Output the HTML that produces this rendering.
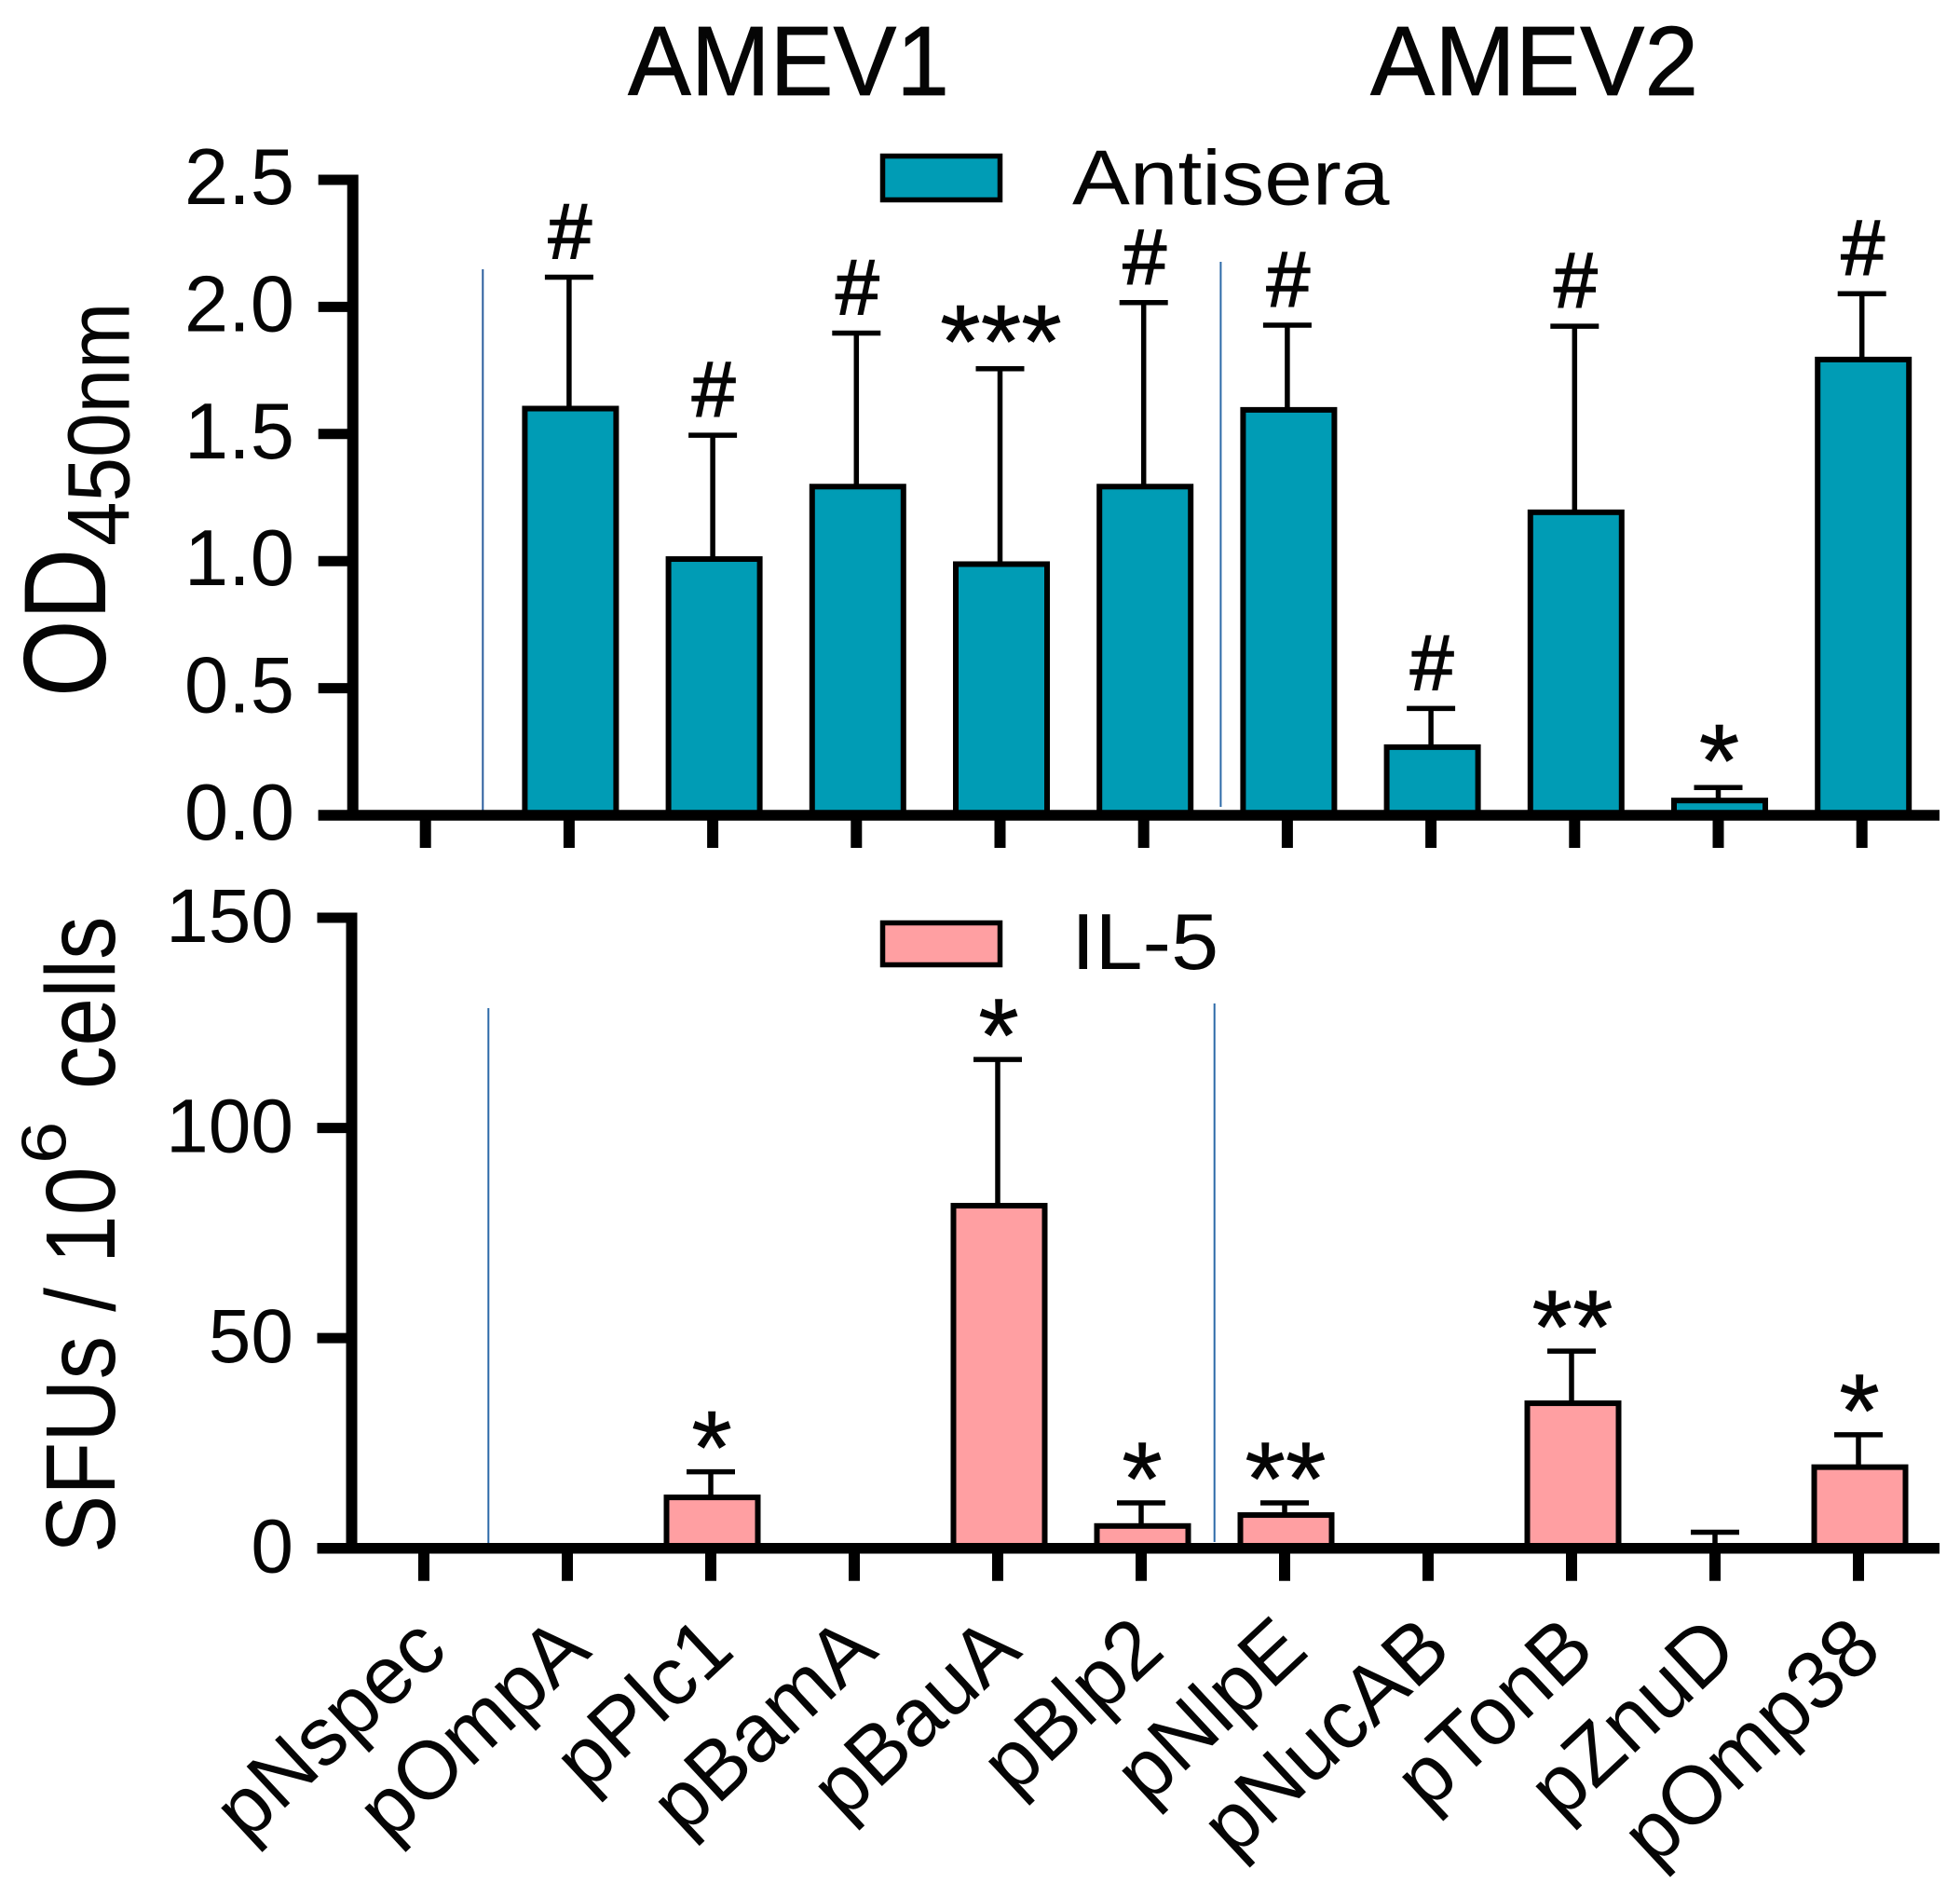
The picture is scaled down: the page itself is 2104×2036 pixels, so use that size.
<!DOCTYPE html>
<html lang="en">
<head>
<meta charset="utf-8">
<title>AMEV1 and AMEV2 antisera and IL-5 responses</title>
<style>
html,body{margin:0;padding:0;background:#fff;width:2104px;height:2036px;overflow:hidden}
svg{display:block;font-family:"Liberation Sans",Arial,sans-serif}
text{fill:#050505}
</style>
</head>
<body>
<svg id="chart" xmlns="http://www.w3.org/2000/svg" width="2104" height="2036" viewBox="0 0 2104 2036">
  <rect x="0" y="0" width="2104" height="2036" fill="#fff"/>
  <text transform="translate(674,102) scale(.96,1)" font-size="106" stroke="#050505" stroke-width=".8">AMEV1</text>
  <text transform="translate(1471,102) scale(.98,1)" font-size="106" stroke="#050505" stroke-width=".8">AMEV2</text>

  <g>
    <text transform="translate(113,748) rotate(-90) scale(.85,1)" font-size="125">OD</text>
    <text transform="translate(138.5,586) rotate(-90) scale(.9,1)" font-size="95">450nm</text>
  </g>
  <g>
    <text transform="translate(122.8,1667) rotate(-90) scale(.88,1)" font-size="106">SFUs / 10</text>
    <text transform="translate(70.5,1249) rotate(-90) scale(1.2,1)" font-size="68">6</text>
    <text transform="translate(122.8,1169) rotate(-90) scale(.875,1)" font-size="106">cells</text>
  </g>

  <g>
    <rect x="947.5" y="167.5" width="126" height="47" fill="#009cb5" stroke="#000" stroke-width="5.5"/>
    <text transform="translate(1151,219.4) scale(1.105,1)" font-size="84">Antisera</text>
  </g>
  <g>
    <rect x="947.5" y="990.5" width="126" height="45" fill="#ff9fa2" stroke="#000" stroke-width="5.5"/>
    <text transform="translate(1150,1040) scale(1.08,1)" font-size="85">IL-5</text>
  </g>

  <line x1="518.3" y1="289" x2="518.3" y2="873" stroke="#2c5f9e" stroke-width="2"/>
  <line x1="1310.4" y1="281" x2="1310.4" y2="866" stroke="#2c6aa8" stroke-width="2"/>
  <line x1="524.3" y1="1082" x2="524.3" y2="1661" stroke="#2c6aa8" stroke-width="2"/>
  <line x1="1303.7" y1="1077" x2="1303.7" y2="1655" stroke="#2c6aa8" stroke-width="2"/>

  <g id="antisera-panel"></g>
  <g id="il5-panel"></g>
  <g id="x-labels"></g>
</svg>
<script>
const categories = ['pNspec','pOmpA','pPlc1','pBamA','pBauA','pBlp2','pNlpE','pNucAB','pTonB','pZnuD','pOmp38'];

const antiseraTicks = [0, 0.5, 1, 1.5, 2, 2.5];
const antiseraTickLabels = ['0.0','0.5','1.0','1.5','2.0','2.5'];
const antiseraValues = [0, 1.6, 1.008, 1.293, 0.988, 1.293, 1.595, 0.268, 1.192, 0.058, 1.793];
const antiseraErrorTops = [0, 2.117, 1.495, 1.897, 1.757, 2.017, 1.928, 0.42, 1.924, 0.109, 2.052];
const antiseraMarks = ['', '#', '#', '#', '***', '#', '#', '#', '#', '*', '#'];

const il5Ticks = [0, 50, 100, 150];
const il5TickLabels = ['0','50','100','150'];
const il5Values = [0, 0.4, 12.1, 0.4, 81.5, 5.3, 7.9, 0, 34.5, 0, 19.3];
const il5ErrorTops = [0, 0, 18.2, 0, 116.3, 10.8, 10.8, 0, 46.9, 3.8, 27.0];
const il5Marks = ['', '', '*', '', '*', '*', '**', '', '**', '', '*'];

const NS = 'http://www.w3.org/2000/svg';
function make(parent, tag, attrs, content) {
  const node = document.createElementNS(NS, tag);
  for (const key in attrs) node.setAttribute(key, attrs[key]);
  if (content !== undefined) node.textContent = content;
  parent.appendChild(node);
  return node;
}

function drawPanel(cfg) {
  const root = document.getElementById(cfg.id);
  const x = i => cfg.x0 + i * cfg.step;
  const y = v => cfg.y0 - v * cfg.unit;

  cfg.values.forEach((value, i) => {
    const top = cfg.errors[i];
    if (top > value) {
      const stem = make(root, 'line', {x1: x(i), x2: x(i), y1: y(top), y2: y(value), stroke: '#000', 'stroke-width': 5.5});
      
      
      const cap = make(root, 'line', {x1: x(i) - 26, x2: x(i) + 26, y1: y(top), y2: y(top), stroke: '#000', 'stroke-width': 5.5});
      
      
    }
    if (value > 0) {
      const bar = make(root, 'rect', {x: x(i) - 47.5, y: y(value), width: 98, height: cfg.y0 - y(value), fill: cfg.fill, stroke: '#000', 'stroke-width': 6});
      
      
    }
    const mark = cfg.marks[i];
    if (mark) {
      const isHash = mark === '#';
      const markY = y(top) + (isHash ? -20 : cfg.starOffset);
      const label = make(root, 'text', {x: x(i) + 1, y: markY, 'text-anchor': 'middle', 'font-size': isHash ? 84 : 112, stroke: '#050505', 'stroke-width': isHash ? 1.6 : 0.6}, mark);
      
      
    }
  });

  const yAxis = make(root, 'line', {x1: cfg.axisX, x2: cfg.axisX, y1: y(cfg.ticks[cfg.ticks.length - 1]) - 5.5, y2: cfg.y0, stroke: '#000', 'stroke-width': 12});
  
  
  const xAxis = make(root, 'line', {x1: cfg.axisX - 37, x2: 2082, y1: cfg.y0, y2: cfg.y0, stroke: '#000', 'stroke-width': 11.5});
  
  

  cfg.ticks.forEach((tick, i) => {
    const mark = make(root, 'line', {x1: cfg.axisX - 37, x2: cfg.axisX, y1: y(tick), y2: y(tick), stroke: '#000', 'stroke-width': 11});
    
    
    const label = make(root, 'text', {x: cfg.labelX, y: y(tick) + 26, 'text-anchor': 'end', 'font-size': cfg.labelSize}, cfg.tickLabels[i]);
    
    
  });

  categories.forEach((cat, i) => {
    const tick = make(root, 'line', {x1: x(i), x2: x(i), y1: cfg.y0, y2: cfg.y0 + 35, stroke: '#000', 'stroke-width': 12});
    
    
  });
}

drawPanel({id: 'antisera-panel', name: 'antisera', values: antiseraValues, errors: antiseraErrorTops, marks: antiseraMarks,
  ticks: antiseraTicks, tickLabels: antiseraTickLabels, fill: '#009cb5',
  x0: 456.7, step: 154.2, y0: 875, unit: 272.8, axisX: 378.7, labelX: 316, labelSize: 85, starOffset: 10});
drawPanel({id: 'il5-panel', name: 'il5', values: il5Values, errors: il5ErrorTops, marks: il5Marks,
  ticks: il5Ticks, tickLabels: il5TickLabels, fill: '#ff9fa2',
  x0: 455, step: 154, y0: 1661.7, unit: 4.511, axisX: 377.5, labelX: 315, labelSize: 82, starOffset: 13});

const labelGroup = document.getElementById('x-labels');
categories.forEach((cat, i) => {
  const px = 455 + i * 154 + 28;
  const label = make(labelGroup, 'text', {'text-anchor': 'end', 'font-size': 88, transform: 'translate(' + px + ',1775) rotate(-43)'}, cat);
  
  
});
</script>
</body>
</html>
